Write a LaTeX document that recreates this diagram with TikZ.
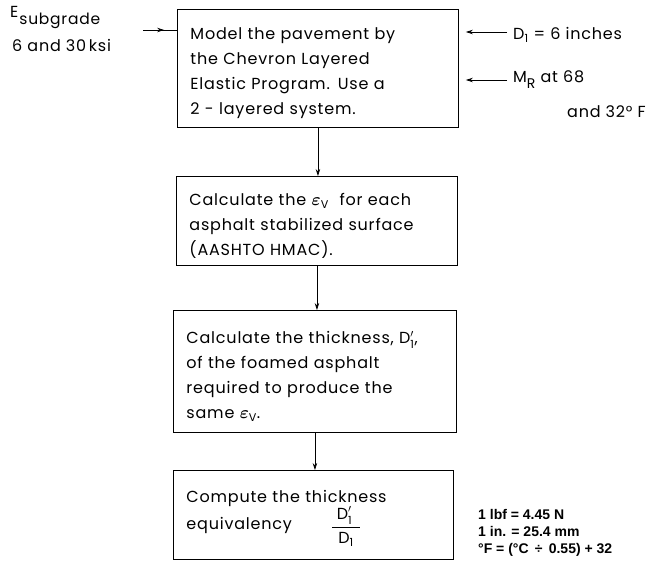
\documentclass[tikz,border=0pt]{standalone}
\usepackage{amsmath,bm}
\usepackage{fontspec}
\setmainfont{Poppins}
\newfontfamily\boxfont[LetterSpace=5]{Poppins}
\newfontfamily\notefont{Liberation Sans}
\usetikzlibrary{arrows.meta,positioning,calc}

% extra room above the first line of a box
\newcommand{\topgap}{\rule{0pt}{22pt}}

\tikzset{
  stepbox/.style={draw, line width=0.9pt, anchor=north west, align=left,
    inner xsep=13pt, inner ysep=0pt, font=\boxfont\fontsize{16}{25}\selectfont},
  inputtext/.style={anchor=west, align=left, inner sep=0pt,
    font=\boxfont\fontsize{16}{27}\selectfont},
  flow/.style={-{Stealth[length=7pt,width=4.5pt]}, line width=0.7pt},
}

\begin{document}
\begin{tikzpicture}[x=1pt, y=1pt]
  \useasboundingbox (0,0) rectangle (658,-561);

  % the four steps
  \node[stepbox, minimum width=281pt, minimum height=118pt, text width=255pt]
    (model) at (177,-9)
    {\topgap Model the pavement by\\ the Chevron Layered\\ Elastic Program. Use a\\ 2 - layered system.};
  \node[stepbox, minimum width=281pt, minimum height=89pt, text width=255pt]
    (strain) at (176,-176)
    {\topgap Calculate the $\bm{\varepsilon}_{\text{V}}$ \ for each\\ asphalt stabilized surface\\ (AASHTO HMAC).};
  \node[stepbox, minimum width=283pt, minimum height=122pt, text width=257pt]
    (thick) at (173,-310)
    {\topgap Calculate the thickness, D$'_{\text{1}}$,\\ of the foamed asphalt\\ required to produce the\\ same $\bm{\varepsilon}_{\text{V}}$.};
  \node[stepbox, minimum width=280pt, minimum height=89pt, text width=254pt]
    (equiv) at (173,-470)
    {Compute the thickness\\[2pt] equivalency \hspace{2.1em}\raisebox{-2pt}{$\smash{\dfrac{\;\text{D}'_{\text{1}}\rule[-3pt]{0pt}{0pt}\;\,}{\rule{0pt}{14pt}\text{D}_{\text{1}}}}$}\rule[-10pt]{0pt}{0pt}};

  % flow between steps
  \draw[flow] (model.south) -- (model.south |- strain.north);
  \draw[flow] (strain.south) -- (strain.south |- thick.north);
  \draw[flow] (thick.south) -- (thick.south |- equiv.north);

  % inputs
  \node[inputtext] (esub) at (10,-18) {E\hspace{1pt}\raisebox{-7pt}{\fontsize{15.5}{15.5}\selectfont subgrade}};
  \node[inputtext] (eval) at (12,-45) {6 and 30\,ksi};
  \node[inputtext] (dval) at (513,-35) {D\textsubscript{1} = 6 inches};
  \node[inputtext] (mval) at (513,-80) {M\raisebox{-6pt}{\fontsize{14}{14}\selectfont R} at 68};
  \node[inputtext] (mtemp) at (567,-112) {and 32° F};

  \coordinate (inE) at (143,-30);
  \coordinate (inD) at (507,-32);
  \coordinate (inM) at (507,-80);
  \draw[line width=0.7pt] (inE) -- (inE -| model.west);
  \draw[flow] (inE) -- ($(inE)!0.62!(inE -| model.west)$);
  \draw[flow, shorten >=7pt] (inD) -- (inD -| model.east);
  \draw[flow, shorten >=7pt] (inM) -- (inM -| model.east);

  % unit conversions
  \node[anchor=north west, align=left, inner sep=0pt,
    font=\notefont\bfseries\fontsize{14}{17}\selectfont] (units) at (478,-509)
    {1 lbf = 4.45 N\\ 1 in. = 25.4 mm\\ °F = (°C \,÷\, 0.55) + 32};
\end{tikzpicture}
\end{document}
